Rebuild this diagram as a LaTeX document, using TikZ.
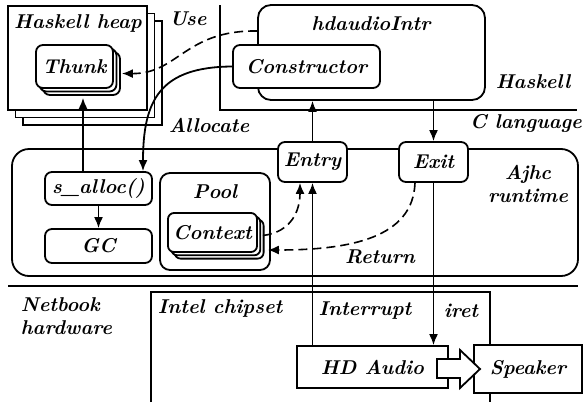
\documentclass[tikz,border=0pt]{standalone}
\usetikzlibrary{shadows,arrows.meta,calc}
\begin{document}
\begin{tikzpicture}[x=1pt,y=-1pt, line width=1.8pt,
  font=\fontsize{20}{23}\selectfont\bfseries\itshape,
  box/.style={draw, rounded corners=7pt, fill=white, inner sep=0pt},
  sqbox/.style={draw, fill=white, inner sep=0pt},
  stackA/.style={copy shadow={shadow xshift=#1*2, shadow yshift=-#1*2, line width=1.8pt},
                 copy shadow={shadow xshift=#1, shadow yshift=-#1, line width=1.8pt}},
  arr/.style={-{Latex[length=11pt,width=9pt]}},
  dsh/.style={dash pattern=on 9pt off 5pt, line width=1.6pt},
  lbl/.style={inner sep=0pt},
]
\useasboundingbox (0,0) rectangle (584,402);

% layer boundaries
\draw (220,5) -- (220,110) -- (577,110);
\draw (8,286) -- (578,286);
\draw (151,402) -- (151,292) -- (490,292) -- (490,402);

% Haskell heap with thunks
\node[sqbox, stackA=7.5pt, minimum width=139pt, minimum height=104pt] (heap) at (77.5,58) {};
\node[lbl] at (78,23) {Haskell heap};
\node[box, stackA=3.5pt, minimum width=77pt, minimum height=43pt] (thunk) at (74.5,66.5) {Thunk};

% Haskell side
\node[box, rounded corners=13pt, minimum width=227pt, minimum height=95pt] (intr) at (371.5,52.5) {};
\node[lbl] at (371,24) {hdaudioIntr};
\node[box, minimum width=147pt, minimum height=43pt] (cons) at (306.5,66.5) {Constructor};
\node[lbl] at (533,82) {Haskell};
\node[lbl] at (526,123) {C language};
\node[lbl] at (188,19) {Use};
\node[lbl] at (209,125) {Allocate};

% Ajhc runtime
\node[box, rounded corners=17pt, minimum width=566pt, minimum height=127pt] (rts) at (295,212.5) {};
\node[lbl, align=center] at (528,184) {Ajhc\\runtime};
\node[box, minimum width=69pt, minimum height=40pt] (entry) at (312.5,162) {Entry};
\node[box, minimum width=69pt, minimum height=40pt] (exit) at (433.5,162) {Exit};
\node[box, minimum width=107pt, minimum height=33pt] (salloc) at (98.5,188.5) {s\_alloc()};
\node[box, minimum width=107pt, minimum height=34pt] (gc) at (98.5,246) {GC};
\node[box, rounded corners=10pt, minimum width=110pt, minimum height=97pt] (pool) at (215,221.5) {};
\node[lbl] at (215,192) {Pool};
\node[box, rounded corners=6pt, stackA=3.3pt, minimum width=89pt, minimum height=39pt] (ctx) at (212.5,232.5) {Context};
\node[lbl] at (380,257) {Return};

% hardware
\node[lbl, align=left, anchor=west] at (20,316) {Netbook\\hardware};
\node[lbl, anchor=west] at (157,308) {Intel chipset};
\node[sqbox, minimum width=151pt, minimum height=42pt] (hda) at (372.5,367) {HD Audio};
\node[sqbox, minimum width=108pt, minimum height=48pt] (spk) at (528,369) {Speaker};
\node[lbl] at (365,311) {Interrupt};
\node[lbl] at (461,311) {iret};

% connectors
\coordinate (thunkbot) at ([yshift=-9pt]thunk.south);
\coordinate (a1) at ([xshift=-15.5pt]salloc.north);
\draw[arr] (a1) -- (a1 |- thunkbot);
\draw[arr] (salloc.south) -- (gc.north);
\draw[arr] (cons.west) .. controls (160,67) and (143,100) .. ([xshift=44.5pt]salloc.north);
\draw[arr, dsh] ([yshift=21.5pt]intr.west) .. controls (185,30) and (178,74) .. ([xshift=8pt,yshift=-7pt]thunk.east);
\draw[arr] (entry.north) -- (entry.north |- intr.south);
\draw[arr] (exit.north |- intr.south) -- (exit.north);
\draw[arr] (entry.south |- hda.north) -- (entry.south);
\draw[arr] (exit.south) -- (exit.south |- hda.north);
\draw[arr, dsh] ([xshift=5pt,yshift=-3pt]ctx.east) .. controls (292,232) and (300,210) .. ([xshift=-12.5pt]entry.south);
\draw[arr, dsh] ([xshift=-18.5pt]exit.south) .. controls (413,238) and (350,250) .. ([xshift=10pt,yshift=-17.5pt]ctx.east);

% output from the codec to the speaker
\draw[fill=white] (437,359) -- (460,359) -- (460,350) -- (480,369) -- (460,388) -- (460,378) -- (437,378) -- cycle;
\end{tikzpicture}
\end{document}
